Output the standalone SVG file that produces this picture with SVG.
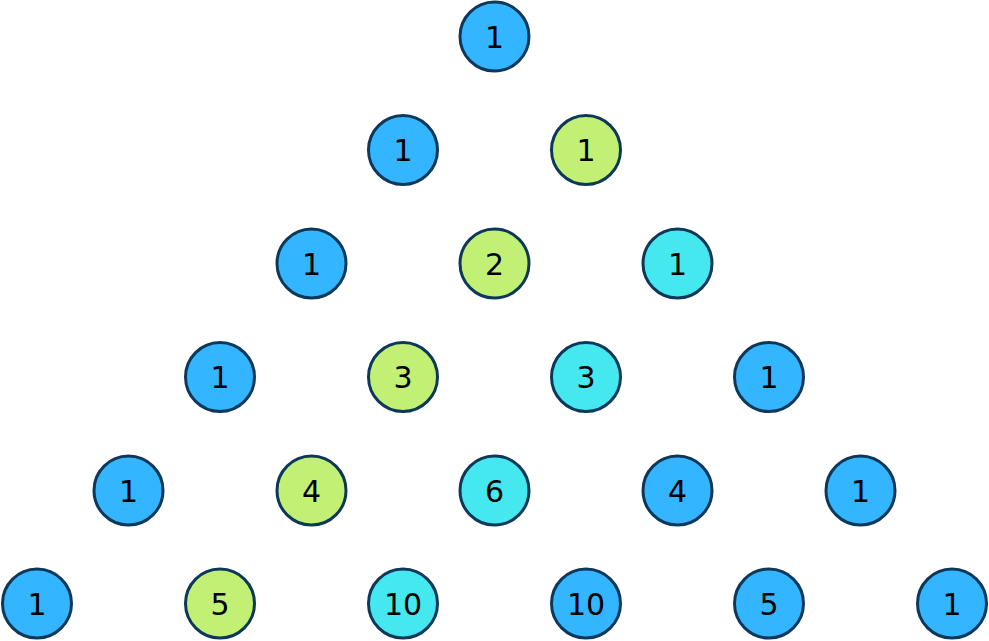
<svg xmlns="http://www.w3.org/2000/svg" width="989" height="641" viewBox="0 0 989 641">
<defs>
<style>
.b{fill:#33b5ff}.g{fill:#c2f075}.c{fill:#45e8ee}
</style>
</defs>
<rect width="989" height="641" fill="#fff"/>
<g id="connectors"/>
<g stroke="#0d3859" stroke-width="3">
<g id="n0"><circle class="b" cx="494.5" cy="36.5" r="34.5"/></g>
<g id="n1"><circle class="b" cx="403" cy="150" r="34.5"/></g>
<g id="n2"><circle class="g" cx="586" cy="150" r="34.5"/></g>
<g id="n3"><circle class="b" cx="311.5" cy="263.5" r="34.5"/></g>
<g id="n4"><circle class="g" cx="494.5" cy="263.5" r="34.5"/></g>
<g id="n5"><circle class="c" cx="677.5" cy="263.5" r="34.5"/></g>
<g id="n6"><circle class="b" cx="220" cy="377" r="34.5"/></g>
<g id="n7"><circle class="g" cx="403" cy="377" r="34.5"/></g>
<g id="n8"><circle class="c" cx="586" cy="377" r="34.5"/></g>
<g id="n9"><circle class="b" cx="769" cy="377" r="34.5"/></g>
<g id="n10"><circle class="b" cx="128.5" cy="490.5" r="34.5"/></g>
<g id="n11"><circle class="g" cx="311.5" cy="490.5" r="34.5"/></g>
<g id="n12"><circle class="c" cx="494.5" cy="490.5" r="34.5"/></g>
<g id="n13"><circle class="b" cx="677.5" cy="490.5" r="34.5"/></g>
<g id="n14"><circle class="b" cx="860.5" cy="490.5" r="34.5"/></g>
<g id="n15"><circle class="b" cx="37" cy="603.5" r="34.5"/></g>
<g id="n16"><circle class="g" cx="220" cy="603.5" r="34.5"/></g>
<g id="n17"><circle class="c" cx="403" cy="603.5" r="34.5"/></g>
<g id="n18"><circle class="b" cx="586" cy="603.5" r="34.5"/></g>
<g id="n19"><circle class="b" cx="769" cy="603.5" r="34.5"/></g>
<g id="n20"><circle class="b" cx="952" cy="603.5" r="34.5"/></g>
</g>
<g id="labels" font-family="DejaVu Sans, Verdana, sans-serif" font-size="30" fill="#000" text-anchor="middle">
<text x="494.5" y="47.5">1</text>
<text x="403" y="161">1</text>
<text x="586" y="161">1</text>
<text x="311.5" y="274.5">1</text>
<text x="494.5" y="274.5">2</text>
<text x="677.5" y="274.5">1</text>
<text x="220" y="388">1</text>
<text x="403" y="388">3</text>
<text x="586" y="388">3</text>
<text x="769" y="388">1</text>
<text x="128.5" y="501.5">1</text>
<text x="311.5" y="501.5">4</text>
<text x="494.5" y="501.5">6</text>
<text x="677.5" y="501.5">4</text>
<text x="860.5" y="501.5">1</text>
<text x="37" y="614.5">1</text>
<text x="220" y="614.5">5</text>
<text x="403" y="614.5">10</text>
<text x="586" y="614.5">10</text>
<text x="769" y="614.5">5</text>
<text x="952" y="614.5">1</text>
</g>
</svg>
